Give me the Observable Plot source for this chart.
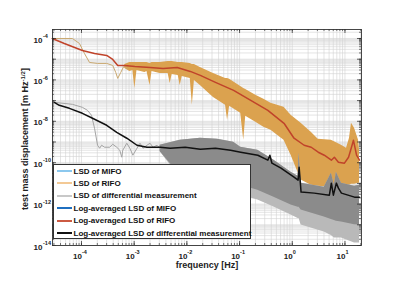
<!DOCTYPE html>
<html>
<head>
<meta charset="utf-8">
<script src="https://cdn.jsdelivr.net/npm/d3@7"></script>
<script src="https://cdn.jsdelivr.net/npm/@observablehq/plot@0.6"></script>
<style>
html,body{margin:0;padding:0;background:#fff;}
#wrap{position:relative;width:399px;height:289px;font-family:"Liberation Sans",Arial,Helvetica,sans-serif;}
#legend{position:absolute;left:53px;top:164px;width:198px;height:75px;box-sizing:border-box;border:1px solid #333;background:#fff;}
.row{position:absolute;left:0;height:12px;display:flex;align-items:center;font-size:8px;font-weight:bold;color:#111;white-space:nowrap;}
.sw{width:15px;height:2px;margin-left:3px;margin-right:1.5px;flex:none;}
</style>
</head>
<body>
<div id="wrap"></div>
<script>
// ---- data (frequency in Hz, displacement in m Hz^-1/2) ----
const rifoAvgF = [2.79e-5,4.73e-5,1.04e-4,1.77e-4,3.01e-4,3.92e-4,4.88e-4,6.64e-4,1.03e-3,2.0e-3,3.54e-3,6.55e-3,1.16e-2,1.8e-2,3.49e-2,7.71e-2,0.163,0.344,0.697,1.08,1.68,2.29,3.11,4.05,5.52,6.30,7.51,9.78,11.7,13.3,14.5,16.6,18.9];
const rifoAvgV = [1.0e-4,5.74e-5,2.64e-5,1.89e-5,1.52e-5,9.73e-6,5.0e-6,5.0e-6,4.47e-6,4.0e-6,3.58e-6,4.0e-6,2.57e-6,1.65e-6,7.58e-7,3.12e-7,1.03e-7,3.39e-8,8.01e-9,1.52e-9,6.97e-10,5.58e-10,3.21e-10,2.30e-10,1.32e-10,1.84e-10,1.06e-10,9.46e-11,1.84e-10,5.58e-10,1.21e-9,2.30e-10,1.32e-10];

const rifoRawF = [2.79e-5,6.73e-5,9.16e-5,1.14e-4,1.42e-4,2.02e-4,3.01e-4,3.92e-4,4.47e-4,4.88e-4,5.57e-4,6.35e-4,7.58e-4];
const rifoRawV = [1.0e-4,1.0e-4,5.74e-5,1.89e-5,6.97e-6,6.24e-6,6.24e-6,5.0e-6,2.30e-6,1.18e-6,2.30e-6,4.47e-6,3.58e-6];

const rifoBandF  = [6.64e-4,8.28e-4,9.45e-4,1.03e-3,1.13e-3,1.60e-3,1.75e-3,2.00e-3,2.18e-3,3.10e-3,4.41e-3,4.82e-3,5.26e-3,6.86e-3,7.48e-3,8.17e-3,1.16e-2,1.27e-2,1.39e-2,1.80e-2,3.20e-2,5.42e-2,5.92e-2,6.47e-2,0.105,0.120,0.131,0.203,0.289,0.394,0.697,0.949,1.47,2.29,3.11,5.52,8.57,10.7,12.2,13.3,15.2,18.1,18.9];
const rifoBandHi = [5.58e-6,6.97e-6,6.97e-6,6.97e-6,6.97e-6,6.97e-6,6.97e-6,6.24e-6,6.97e-6,6.97e-6,7.80e-6,7.80e-6,7.80e-6,6.97e-6,6.97e-6,6.97e-6,6.24e-6,5.58e-6,5.58e-6,4.0e-6,2.06e-6,1.18e-6,1.18e-6,1.06e-6,4.86e-7,3.89e-7,3.48e-7,1.79e-7,1.15e-7,7.37e-8,4.73e-8,1.95e-8,8.01e-9,2.95e-9,1.36e-9,1.21e-9,6.97e-10,5.0e-10,1.52e-9,8.0e-9,4.6e-9,1.21e-9,4.0e-10];
const rifoBandLo = [3.58e-6,2.57e-6,2.87e-6,3.89e-7,2.87e-6,2.30e-6,2.57e-6,5.43e-7,2.57e-6,2.06e-6,2.06e-6,6.78e-7,1.84e-6,1.65e-6,5.43e-7,1.47e-6,1.18e-6,5.90e-8,9.46e-7,5.43e-7,1.43e-7,5.90e-8,1.12e-8,5.28e-8,2.43e-8,1.21e-9,1.74e-8,8.95e-9,5.14e-9,3.68e-9,1.21e-9,2.30e-10,1.44e-11,8.24e-12,7.37e-12,6.59e-12,7.37e-12,8.24e-12,8.24e-12,9.2e-12,9.2e-12,1.03e-11,1.03e-11];

const diffBandF   = [3.10e-3,7.48e-3,1.80e-2,3.81e-2,7.71e-2,0.105,0.222,0.449,0.949,1.29,1.35,1.47,4.05,5.52,6.30,6.87,8.57,15.2,18.9];
const diffBandHi  = [7.0e-10,1.21e-9,1.52e-9,1.36e-9,9.73e-10,5.58e-10,4.0e-10,1.32e-10,3.48e-11,2.23e-11,2.87e-10,1.03e-11,6.59e-12,3.12e-11,8.24e-12,3.48e-11,1.03e-11,7.37e-12,8.24e-12];
const diffBandMid = [3.5e-10,2.5e-11,1.5e-11,1.0e-11,9.2e-12,8.24e-12,4.73e-12,2.17e-12,8.95e-13,7.0e-13,7.0e-13,5.14e-13,2.36e-13,1.8e-13,1.6e-13,1.5e-13,1.36e-13,1.0e-13,9.73e-14];
const diffBandLo  = [3.5e-10,1.79e-11,1.03e-11,5.90e-12,3.39e-12,2.71e-12,1.56e-12,7.17e-13,2.95e-13,2.0e-13,2.0e-13,9.73e-14,4.47e-14,3.0e-14,2.30e-14,2.30e-14,2.30e-14,1.32e-14,1.32e-14];

const diffRawF = [3.05e-5,6.73e-5,1.04e-4,1.30e-4,1.55e-4,1.77e-4,2.02e-4,2.21e-4,2.41e-4,2.75e-4,3.43e-4,3.92e-4,4.67e-4,5.33e-4,5.82e-4,6.08e-4,7.25e-4,8.28e-4,9.45e-4,1.13e-3,1.29e-3,1.47e-3,1.75e-3,2.0e-3,2.28e-3,2.72e-3,3.10e-3];
const diffRawV = [8.24e-8,6.60e-8,4.73e-8,3.39e-8,1.95e-8,4.60e-9,6.97e-10,5.0e-10,6.97e-10,5.58e-10,5.58e-10,7.79e-10,5.58e-10,4.0e-10,1.84e-10,4.0e-10,8.71e-10,5.0e-10,2.30e-10,5.0e-10,8.71e-10,5.0e-10,6.97e-10,8.71e-10,5.58e-10,6.97e-10,5.0e-10];

const diffAvgF = [3.05e-5,3.79e-5,5.90e-5,1.04e-4,1.62e-4,3.01e-4,4.67e-4,7.25e-4,1.13e-3,1.75e-3,3.10e-3,4.82e-3,9.31e-3,1.80e-2,3.49e-2,6.76e-2,0.105,0.222,0.344,0.376,0.411,0.611,1.08,1.29,1.35,1.47,2.61,5.06,5.52,6.03,6.87,7.51,8.57,15.2,18.9];
const diffAvgV = [8.24e-8,5.90e-8,4.23e-8,2.43e-8,1.40e-8,6.42e-9,2.95e-9,1.52e-9,6.97e-10,5.58e-10,5.58e-10,5.0e-10,5.58e-10,4.47e-10,5.0e-10,4.0e-10,3.21e-10,2.30e-10,1.32e-10,2.30e-10,9.46e-11,5.43e-11,2.0e-11,1.44e-11,6.07e-11,3.79e-12,3.39e-12,2.71e-12,1.03e-11,2.71e-12,1.03e-11,5.90e-12,3.39e-12,2.17e-12,2.17e-12];

const xTickVals = [1e-4,1e-3,1e-2,1e-1,1,10];
const xTickExp  = ["-4","-3","-2","-1","0","1"];
const yTickVals = [1e-14,1e-12,1e-10,1e-8,1e-6,1e-4];
const yTickExp  = ["-14","-12","-10","-8","-6","-4"];

const legendLabels = ["LSD of MIFO","LSD of RIFO","LSD of differential measurement","Log-averaged LSD of MIFO","Log-averaged LSD of RIFO","Log-averaged LSD of differential measurement"];
const legendColors = ["#8cc8ee","#f3c995","#c8c8c8","#1f6fc0","#cc5a42","#111111"];

const xLabel = "frequency [Hz]";
const yLabelMain = "test mass displacement [m Hz";
const yLabelSup = "-1/2";

// ---- build tables ----
const zip = (f, cols) => f.map((v, i) => Object.fromEntries([["f", v], ...Object.entries(cols).map(([k, a]) => [k, a[i]])]));
const rifoAvg = zip(rifoAvgF, {v: rifoAvgV});
const rifoRaw = zip(rifoRawF, {v: rifoRawV});
const rifoBand = zip(rifoBandF, {hi: rifoBandHi, lo: rifoBandLo});
const diffBand = zip(diffBandF, {hi: diffBandHi, mid: diffBandMid, lo: diffBandLo});
const diffRaw = zip(diffRawF, {v: diffRawV});
const diffAvg = zip(diffAvgF, {v: diffAvgV});
const xTicks = xTickVals.map((v, i) => ({v, e: xTickExp[i]}));
const yTicks = yTickVals.map((v, i) => ({v, e: yTickExp[i]}));

const xDom = [2.82e-5, 20.6], yDom = [1e-14, 2.72e-4];
const decadeMinor = (lo, hi) => { const out = []; for (let e = Math.floor(Math.log10(lo)); e <= Math.ceil(Math.log10(hi)); e++) for (let m = 1; m <= 9; m++) { const v = m * 10 ** e; if (v >= lo && v <= hi) out.push(v); } return out; };
const gridX = decadeMinor(...xDom), gridY = decadeMinor(...yDom);
const majX = gridX.filter(v => Math.abs(Math.log10(v) - Math.round(Math.log10(v))) < 1e-9);
const majY = gridY.filter(v => Math.abs(Math.log10(v) - Math.round(Math.log10(v))) < 1e-9);

const W = 399, H = 289, mL = 52, mR = 38, mT = 29, mB = 44;
const fw = W - mL - mR, fh = H - mT - mB;
const font = "Liberation Sans, Arial, Helvetica, sans-serif";
const ink = "#222";

const chart = Plot.plot({
  width: W, height: H,
  marginLeft: mL, marginRight: mR, marginTop: mT, marginBottom: mB,
  style: {fontFamily: font, background: "#fff", overflow: "visible"},
  x: {type: "log", domain: xDom, axis: null},
  y: {type: "log", domain: yDom, axis: null},
  marks: [
    Plot.ruleX(gridX, {x: d => d, stroke: "#d2d2d2", strokeWidth: 0.6}),
    Plot.ruleY(gridY, {y: d => d, stroke: "#d2d2d2", strokeWidth: 0.6}),
    // RIFO raw spectrum
    Plot.areaY(rifoBand, {x: "f", y1: "lo", y2: "hi", fill: "#dba24f"}),
    Plot.line(rifoRaw, {x: "f", y: "v", stroke: "#c9a870", strokeWidth: 1}),
    // differential raw spectrum
    Plot.areaY(diffBand, {x: "f", y1: "lo", y2: "hi", fill: "#b9b9b9"}),
    Plot.areaY(diffBand, {x: "f", y1: "mid", y2: "hi", fill: "#8b8b8b"}),
    Plot.line(diffRaw, {x: "f", y: "v", stroke: "#a4a4a4", strokeWidth: 1}),
    // log-averaged
    Plot.line(rifoAvg, {x: "f", y: "v", stroke: "#c0432a", strokeWidth: 1.5}),
    Plot.line(diffAvg, {x: "f", y: "v", stroke: "#111", strokeWidth: 1.5}),
    // inward ticks
    Plot.tickX(gridX, {x: d => d, insetTop: fh - 2, stroke: ink, strokeWidth: 0.6}),
    Plot.tickX(gridX, {x: d => d, insetBottom: fh - 2, stroke: ink, strokeWidth: 0.6}),
    Plot.tickX(majX, {x: d => d, insetTop: fh - 4, stroke: ink, strokeWidth: 0.7}),
    Plot.tickX(majX, {x: d => d, insetBottom: fh - 4, stroke: ink, strokeWidth: 0.7}),
    Plot.tickY(gridY, {y: d => d, insetRight: fw - 2, stroke: ink, strokeWidth: 0.6}),
    Plot.tickY(gridY, {y: d => d, insetLeft: fw - 2, stroke: ink, strokeWidth: 0.6}),
    Plot.tickY(majY, {y: d => d, insetRight: fw - 4, stroke: ink, strokeWidth: 0.7}),
    Plot.tickY(majY, {y: d => d, insetLeft: fw - 4, stroke: ink, strokeWidth: 0.7}),
    Plot.frame({stroke: "#333", strokeWidth: 0.9}),
    // tick labels
    Plot.text(xTicks, {x: "v", text: () => "10", frameAnchor: "bottom", lineAnchor: "middle", textAnchor: "end", dx: 0.5, dy: 10.5, fontSize: 8, fontWeight: "bold", fill: ink}),
    Plot.text(xTicks, {x: "v", text: "e", frameAnchor: "bottom", lineAnchor: "middle", textAnchor: "start", dx: 0.5, dy: 7, fontSize: 5.5, fontWeight: "bold", fill: ink}),
    Plot.text(yTicks, {y: "v", text: () => "10", frameAnchor: "left", lineAnchor: "middle", textAnchor: "end", dx: -10, dy: 1.5, fontSize: 8, fontWeight: "bold", fill: ink}),
    Plot.text(yTicks, {y: "v", text: "e", frameAnchor: "left", lineAnchor: "middle", textAnchor: "start", dx: -9.5, dy: -2, fontSize: 5.5, fontWeight: "bold", fill: ink}),
    Plot.text([xLabel], {text: d => d, frameAnchor: "bottom", lineAnchor: "middle", dy: 20, fontSize: 9, fontWeight: "bold", fill: ink})
  ]
});

const wrap = document.getElementById("wrap");
wrap.appendChild(chart);

// y axis title with superscript
const svg = d3.select(chart);
const yt = svg.append("text")
  .attr("transform", `translate(28,${mT + fh / 2 + 2}) rotate(-90)`)
  .attr("text-anchor", "middle")
  .attr("font-family", font).attr("font-size", 9).attr("font-weight", "bold").attr("fill", ink);
yt.append("tspan").text(yLabelMain);
yt.append("tspan").attr("dy", -3.5).attr("font-size", 6).text(yLabelSup);
yt.append("tspan").attr("dy", 3.5).text("]");

// legend
const leg = document.createElement("div");
leg.id = "legend";
legendLabels.forEach((lab, i) => {
  const row = document.createElement("div");
  row.className = "row";
  row.style.top = (i * 12.4) + "px";
  const sw = document.createElement("span");
  sw.className = "sw";
  sw.style.background = legendColors[i];
  const tx = document.createElement("span");
  tx.textContent = lab;
  row.appendChild(sw); row.appendChild(tx);
  leg.appendChild(row);
});
wrap.appendChild(leg);
</script>
</body>
</html>
